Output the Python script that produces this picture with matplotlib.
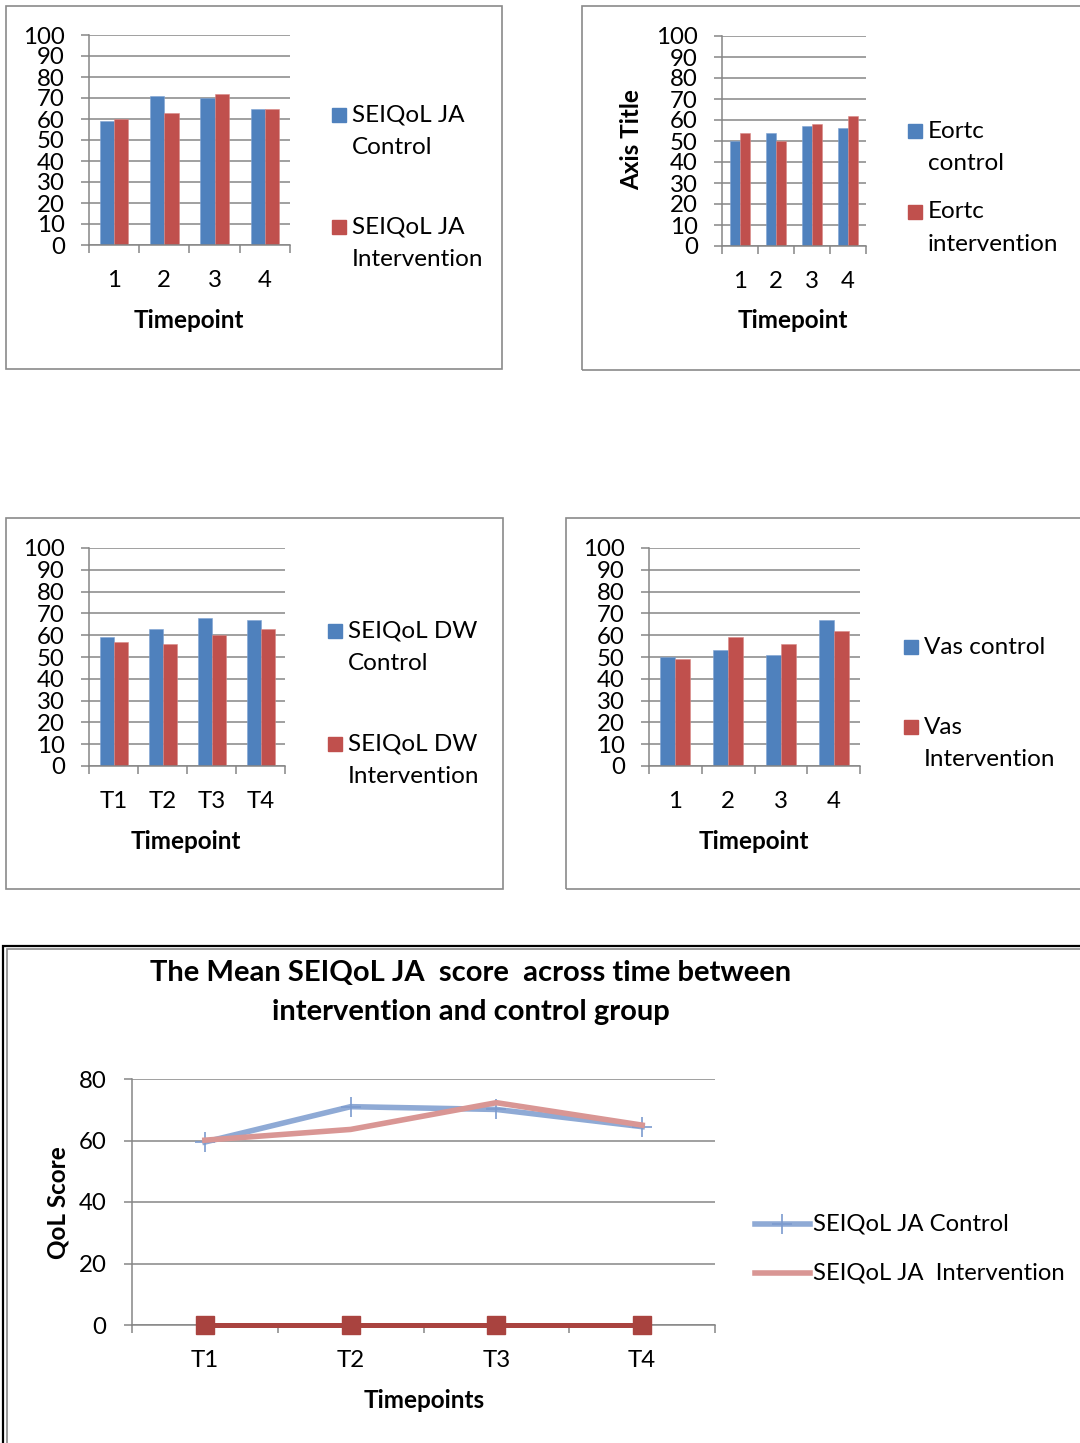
import numpy as np
import matplotlib
matplotlib.use("Agg")
import matplotlib.pyplot as plt
from matplotlib.patches import Rectangle
from matplotlib.lines import Line2D

plt.rcParams['font.family'] = ['Lato', 'DejaVu Sans']

W, H = 1080, 1443
BLUE = '#4F81BD'
RED = '#C0504D'
GRID = '#868686'
FRAME = '#8a8a8a'
TICK_FS = 17.3
LEG_FS = 17.5
LAB_FS = 17.5

# ---- data ----
ja_cats = ['1', '2', '3', '4']
ja_control = [59, 71, 70, 65]
ja_interv = [60, 63, 72, 65]
ja_labels = ['SEIQoL JA\nControl', 'SEIQoL JA\nIntervention']

eortc_cats = ['1', '2', '3', '4']
eortc_control = [50, 54, 57, 56]
eortc_interv = [54, 50, 58, 62]
eortc_labels = ['Eortc\ncontrol', 'Eortc\nintervention']

dw_cats = ['T1', 'T2', 'T3', 'T4']
dw_control = [59, 63, 68, 67]
dw_interv = [57, 56, 60, 63]
dw_labels = ['SEIQoL DW\nControl', 'SEIQoL DW\nIntervention']

vas_cats = ['1', '2', '3', '4']
vas_control = [50, 53, 51, 67]
vas_interv = [49, 59, 56, 62]
vas_labels = ['Vas control', 'Vas\nIntervention']

line_cats = ['T1', 'T2', 'T3', 'T4']
line_control = [59.5, 71.0, 70.1, 64.5]
line_interv = [60.1, 63.6, 72.3, 65.0]
line_zero = [0, 0, 0, 0]
line_labels = ['SEIQoL JA Control', 'SEIQoL JA  Intervention']
line_title = ['The Mean SEIQoL JA  score  across time between',
              'intervention and control group']

fig = plt.figure(figsize=(W / 100, H / 100), dpi=100)


def fx(x):
    return x / W


def fy(y):
    return 1 - y / H


def axes_px(x0, y0, x1, y1):
    return fig.add_axes([fx(x0), fy(y1), (x1 - x0) / W, (y1 - y0) / H])


def frame(x0, y0, x1, y1, color=FRAME, lw=1.2):
    fig.patches.append(Rectangle((fx(x0), fy(y1)), (x1 - x0) / W, (y1 - y0) / H,
                                 transform=fig.transFigure, fill=False,
                                 edgecolor=color, linewidth=lw, zorder=0))


def style_axes(ax, cats, ymax, ystep, xpad, fs=TICK_FS):
    n = len(cats)
    ax.set_xlim(-0.5, n - 0.5)
    ax.set_ylim(0, ymax)
    ax.set_yticks(np.arange(0, ymax + 1, ystep))
    ax.set_xticks(np.arange(n))
    ax.set_xticklabels(cats)
    ax.set_xticks(np.arange(n + 1) - 0.5, minor=True)
    ax.tick_params(axis='x', which='major', length=0, pad=xpad, labelsize=fs)
    ax.tick_params(axis='x', which='minor', length=5.5, width=1.1, color=GRID)
    ax.tick_params(axis='y', length=5.5, width=1.1, color=GRID, pad=12, labelsize=fs)
    ax.yaxis.grid(True, color=GRID, linewidth=1.1)
    ax.set_axisbelow(True)
    for s in ['top', 'right']:
        ax.spines[s].set_visible(False)
    for s in ['left', 'bottom']:
        ax.spines[s].set_color(GRID)
        ax.spines[s].set_linewidth(1.1)


def bar_chart(box, cats, control, interv, xpad=18):
    ax = axes_px(*box)
    x = np.arange(len(cats))
    w = 1 / 3.5
    ax.bar(x - w / 2, control, w, color=BLUE, edgecolor='#7fa3d3', linewidth=0.4)
    ax.bar(x + w / 2, interv, w, color=RED, edgecolor='#d98a88', linewidth=0.4)
    style_axes(ax, cats, 100, 10, xpad)
    return ax


def bar_legend(x_sq, y_first, labels, y_second, dy=32.5, fs=LEG_FS):
    for color, label, yc in zip([BLUE, RED], labels, [y_first, y_second]):
        fig.patches.append(Rectangle((fx(x_sq), fy(yc + 7)), 14 / W, 14 / H,
                                     transform=fig.transFigure, color=color))
        for i, line in enumerate(label.split('\n')):
            fig.text(fx(x_sq + 20), fy(yc + i * dy), line, fontsize=fs,
                     ha='left', va='center')


def bold_label(x, y, s, rot=0, fs=LAB_FS):
    fig.text(fx(x), fy(y), s, fontsize=fs, fontweight='bold', rotation=rot,
             ha='center', va='center')


# ---- panel frames ----
frame(6, 6, 502, 369)
frame(582, 6, 1090, 370)
frame(6, 518, 503, 889)
frame(566, 518, 1090, 889)

# ---- four bar charts ----
bar_chart((89, 35, 290, 245), ja_cats, ja_control, ja_interv)
bold_label(189, 321, 'Timepoint')
bar_legend(332, 115, ja_labels, 227)

bar_chart((722, 36, 866, 246), eortc_cats, eortc_control, eortc_interv)
bold_label(793, 321, 'Timepoint')
bold_label(632, 140, 'Axis Title', rot=90)
bar_legend(908, 131, eortc_labels, 212)

bar_chart((89, 548, 285, 766), dw_cats, dw_control, dw_interv)
bold_label(186, 841, 'Timepoint')
bar_legend(328, 631, dw_labels, 744)

bar_chart((649, 548, 860, 766), vas_cats, vas_control, vas_interv)
bold_label(754, 841, 'Timepoint')
bar_legend(904, 647, vas_labels, 727)

# ---- line chart ----
frame(3, 946, 1090, 1460, color='black', lw=1.6)
frame(7, 949, 1090, 1460, color=FRAME, lw=1.2)

ax = axes_px(132, 1079, 715, 1325)
x = np.arange(len(line_cats))
ax.plot(x, line_zero, color='#A9433F', lw=3.6, marker='s', ms=13, clip_on=False, zorder=4)
ax.plot(x, line_control, color='#8FAAD5', lw=4, marker='+', ms=15, mew=1.2,
        mec='#7C9BCE', zorder=5)
ax.plot(x, line_interv, color='#D99694', lw=4, zorder=6)
style_axes(ax, line_cats, 80, 20, 18)
ax.yaxis.set_tick_params(pad=13)

for i, line in enumerate(line_title):
    bold_label(471, 973 + i * 39, line, fs=21)
bold_label(58, 1203, 'QoL Score', rot=90)
bold_label(424, 1400, 'Timepoints')

for color, label, yc, mk in zip(['#8FAAD5', '#D99694'], line_labels, [1224, 1273], ['+', None]):
    fig.lines.append(Line2D([fx(755), fx(810)], [fy(yc), fy(yc)], transform=fig.transFigure,
                            color=color, lw=4))
    if mk:
        fig.lines.append(Line2D([fx(782)], [fy(yc)], transform=fig.transFigure, color=color,
                                marker=mk, ms=15, mew=1.2, mec='#7C9BCE', lw=0))
    fig.text(fx(813), fy(yc), label, fontsize=17.2, ha='left', va='center')

fig.savefig('out.png', dpi=100)
